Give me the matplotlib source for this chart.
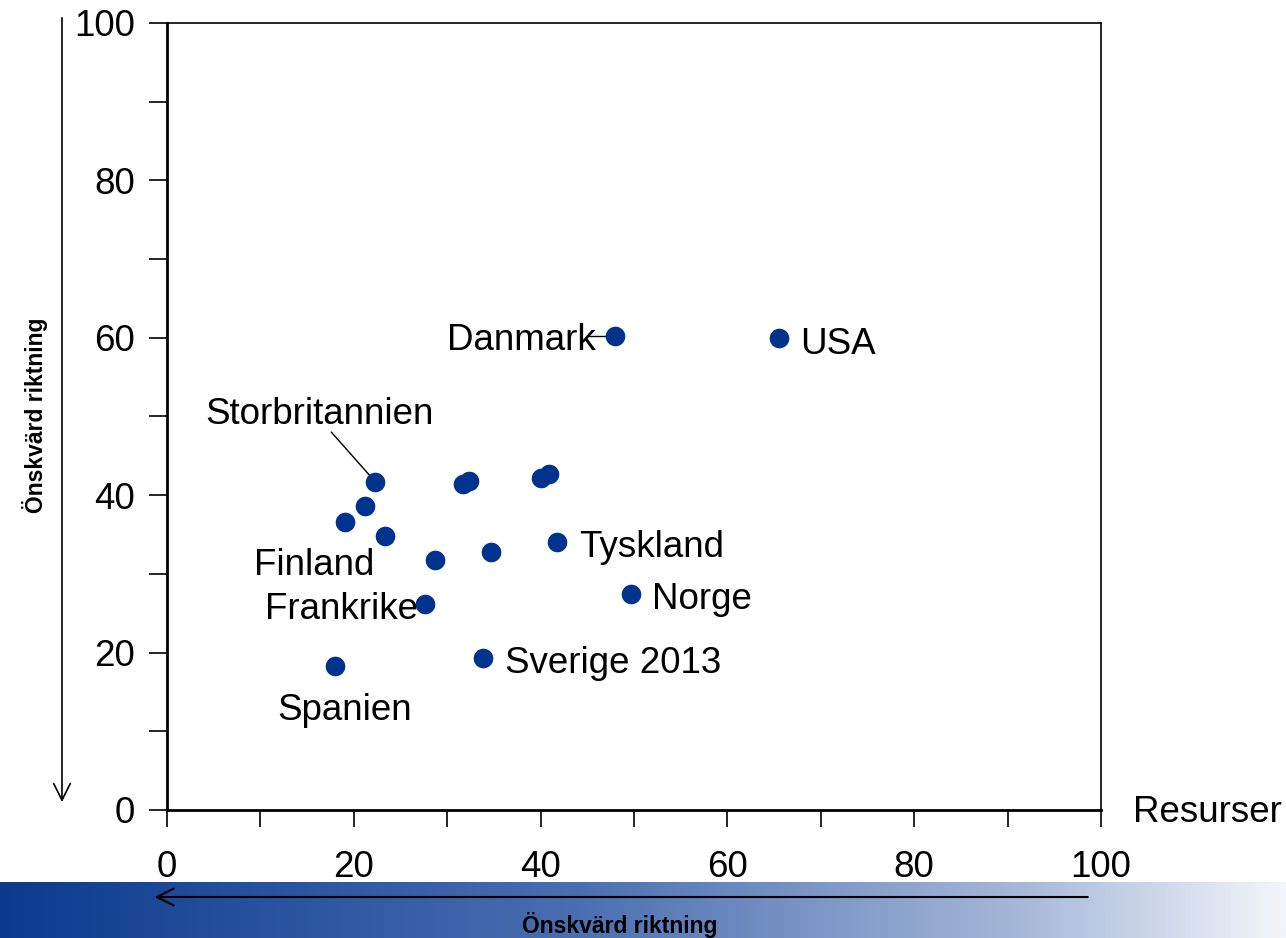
import matplotlib
matplotlib.use("Agg")
import matplotlib.pyplot as plt
import numpy as np
from matplotlib.colors import LinearSegmentedColormap

plt.rcParams['font.family'] = ['Liberation Sans', 'DejaVu Sans']

# data: Resurser (x) vs index (y)
countries = ["USA", "Danmark", "Storbritannien", "", "Finland", "", "",
             "Frankrike", "Spanien", "", "", "", "", "", "Tyskland", "Norge",
             "Sverige 2013"]
resurser = [65.5, 48.0, 22.3, 21.2, 19.1, 23.3, 28.7, 27.6, 18.0,
            31.7, 32.3, 40.0, 40.9, 34.7, 41.8, 49.7, 33.8]
varde = [60.0, 60.2, 41.7, 38.6, 36.6, 34.8, 31.8, 26.2, 18.3,
         41.4, 41.8, 42.2, 42.7, 32.8, 34.1, 27.4, 19.3]

xticks = [0, 20, 40, 60, 80, 100]
yticks = [0, 20, 40, 60, 80, 100]

# label placement (data coords, alignment)
label_pos = {
    "USA": (67.8, 59.1, "left"),
    "Danmark": (45.9, 59.7, "right"),
    "Storbritannien": (16.3, 50.2, "center"),
    "Finland": (15.8, 31.1, "center"),
    "Frankrike": (18.7, 25.5, "center"),
    "Spanien": (19.0, 12.7, "center"),
    "Tyskland": (44.1, 33.3, "left"),
    "Norge": (51.9, 26.7, "left"),
    "Sverige 2013": (36.2, 18.6, "left"),
}
leaders = {"Storbritannien": (17.6, 48.0), "Danmark": (45.2, 60.2)}

blue = "#00338d"
fs = 26.5

fig = plt.figure(figsize=(12.86, 9.38), dpi=100)

# gradient band at the bottom (added first so it sits under the tick labels)
cmap = LinearSegmentedColormap.from_list(
    "band", [(0, "#0c3a8e"), (0.45, "#4a6fb1"), (0.8, "#a8b9d9"), (1, "#f3f5fa")])
bax = fig.add_axes([0, 0, 1, 0.0597], zorder=0)
bax.imshow(np.linspace(0, 1, 512)[None, :], aspect="auto", cmap=cmap,
           extent=[0, 1, 0, 1])
bax.set_axis_off()

ax = fig.add_axes([0.1299, 0.1365, 0.7262, 0.839], zorder=1)
ax.patch.set_alpha(0)
ax.scatter(resurser, varde, s=200, color=blue, zorder=3, linewidths=0)

for name, x, y in zip(countries, resurser, varde):
    if not name:
        continue
    tx, ty, ha = label_pos[name]
    ax.text(tx, ty, name, fontsize=fs, ha=ha, va="center")
    if name in leaders:
        lx, ly = leaders[name]
        ax.plot([x, lx], [y, ly], color="black", lw=1, zorder=2)

ax.set_xlim(0, 100)
ax.set_ylim(0, 100)
ax.set_xticks(np.arange(0, 101, 10))
ax.set_xticklabels([str(t) if t in xticks else "" for t in range(0, 101, 10)])
ax.set_yticks(np.arange(0, 101, 10))
ax.set_yticklabels([str(t) if t in yticks else "" for t in range(0, 101, 10)])
ax.tick_params(axis="x", direction="out", length=12, width=1.2, pad=17, labelsize=fs)
ax.tick_params(axis="y", direction="out", length=13, width=1.2, pad=10, labelsize=fs)
for side in ["left", "bottom"]:
    ax.spines[side].set_linewidth(2)
for side in ["top", "right"]:
    ax.spines[side].set_linewidth(1.2)

fig.text(0.881, 0.134, "Resurser", fontsize=fs, ha="left", va="center")

fig.text(0.482, 0.0139, "Önskvärd riktning", fontsize=16.5, weight="bold",
         ha="center", va="center")
fig.patches.append(matplotlib.patches.FancyArrowPatch(
    (0.848, 0.0437), (0.118, 0.0437), transform=fig.transFigure,
    arrowstyle="->,head_length=12,head_width=6", color="black", lw=1.5))

# vertical arrow and label on the left
fig.patches.append(matplotlib.patches.FancyArrowPatch(
    (0.0482, 0.984), (0.0482, 0.142), transform=fig.transFigure,
    arrowstyle="->,head_length=12,head_width=6", color="black", lw=1.2))
fig.text(0.027, 0.5576, "Önskvärd riktning", fontsize=16.5, weight="bold",
         rotation=90, ha="center", va="center")

fig.savefig("out.png", dpi=100)
